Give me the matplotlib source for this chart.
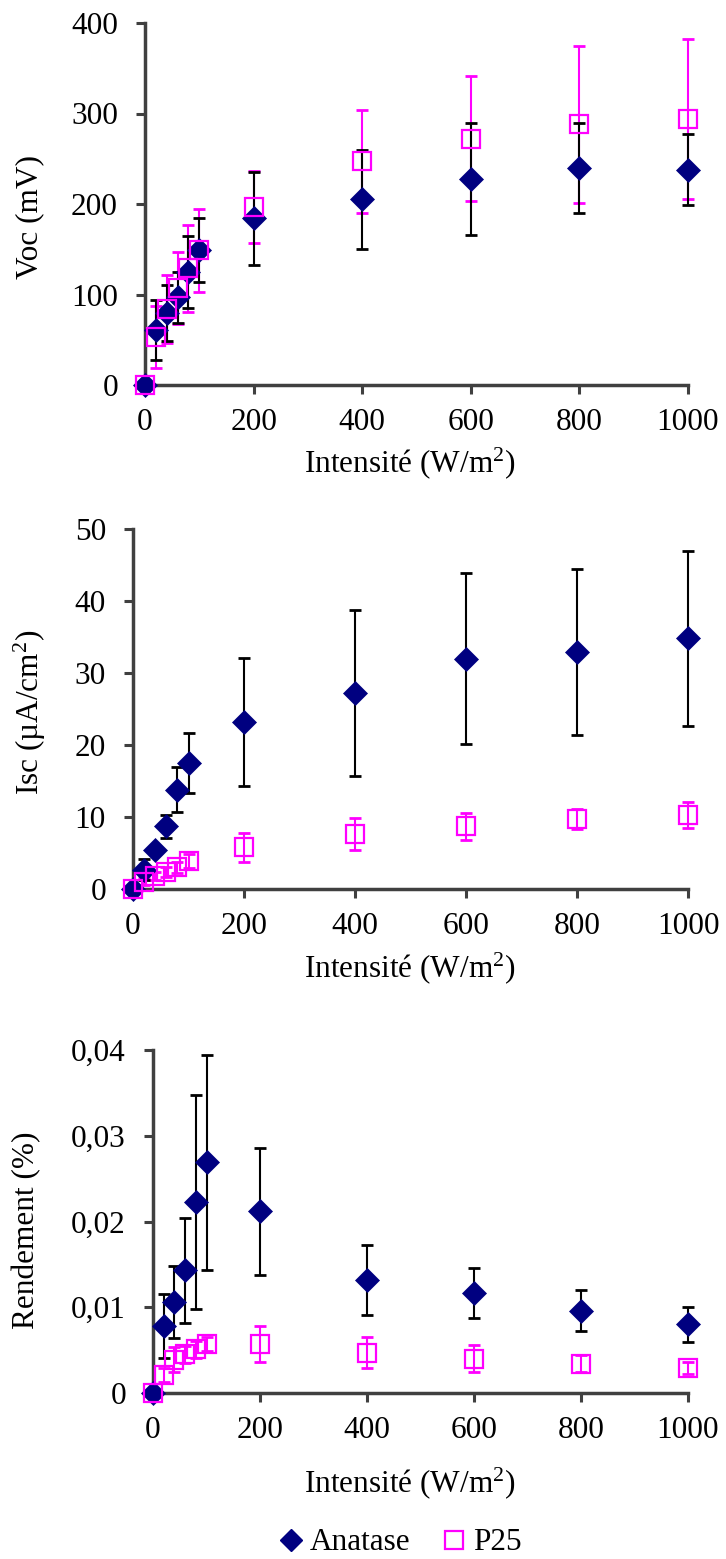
import matplotlib
matplotlib.use('agg')
import matplotlib.pyplot as plt
from matplotlib.lines import Line2D
from matplotlib.ticker import FuncFormatter

plt.rcParams['font.family'] = ['Liberation Serif', 'DejaVu Serif']
plt.rcParams['font.size'] = 22.5
plt.rcParams['mathtext.fontset'] = 'custom'
plt.rcParams['mathtext.rm'] = 'Liberation Serif'
plt.rcParams['mathtext.it'] = 'Liberation Serif:italic'
plt.rcParams['mathtext.default'] = 'rm'

# Intensity levels (W/m2)
intensite = [0, 20, 40, 60, 80, 100, 200, 400, 600, 800, 1000]

# Voc (mV)
voc_anatase = [0, 61, 80, 97, 125, 149, 184, 205, 228, 240, 238]
voc_anatase_err = [0, 33, 31, 28, 40, 35, 51, 55, 62, 50, 39]
voc_p25 = [0, 53, 84, 107, 129, 149, 197, 247, 272, 288, 294]
voc_p25_err = [0, 34, 38, 40, 48, 46, 40, 57, 69, 87, 88]

# Isc (uA/cm2)
isc_anatase = [0, 2.7, 5.4, 8.7, 13.8, 17.5, 23.2, 27.2, 32.0, 32.9, 34.8]
isc_anatase_err = [0, 1.4, 0.6, 1.6, 3.1, 4.2, 8.9, 11.5, 11.9, 11.5, 12.1]
isc_p25 = [0, 1.0, 1.8, 2.4, 3.0, 3.9, 5.8, 7.6, 8.7, 9.7, 10.3]
isc_p25_err = [0, 0.5, 0.6, 0.7, 0.8, 1.0, 2.0, 2.2, 1.9, 1.4, 1.8]

# Rendement (%)
rend_anatase = [0, 0.0078, 0.0106, 0.0143, 0.0223, 0.0269, 0.0212, 0.0132, 0.0117, 0.0096, 0.0080]
rend_anatase_err = [0, 0.0037, 0.0042, 0.0061, 0.0125, 0.0125, 0.0074, 0.0041, 0.0029, 0.0024, 0.0020]
rend_p25 = [0, 0.0021, 0.0039, 0.0045, 0.0051, 0.0057, 0.0057, 0.0047, 0.0040, 0.0034, 0.0029]
rend_p25_err = [0, 0.0008, 0.0015, 0.0010, 0.0010, 0.0008, 0.0021, 0.0018, 0.0016, 0.0010, 0.0007]

xlabel = 'Intensité (W/m$^{2}$)'
NAVY = '#000080'
MAGENTA = '#FF00FF'
AXC = '#404040'

W, H = 726, 1559
fig = plt.figure(figsize=(W / 100, H / 100), dpi=100)


def px_axes(left, top, right, bottom):
    return fig.add_axes([left / W, 1 - bottom / H, (right - left) / W, (bottom - top) / H])


def comma_fmt(v, pos):
    if abs(v) < 1e-12:
        return '0'
    return ('%.2f' % v).replace('.', ',')


panels = [
    # box (px), ylim, yticks, ylabel, ylabel pos, xlabel y, data
    ((145, 23, 688, 385), 400, [0, 100, 200, 300, 400], 'Voc (mV)', (30, 217), 463,
     voc_anatase, voc_anatase_err, voc_p25, voc_p25_err),
    ((133, 529, 688, 889), 50, [0, 10, 20, 30, 40, 50], 'Isc (µA/cm$^{2}$)', (30, 712), 968,
     isc_anatase, isc_anatase_err, isc_p25, isc_p25_err),
    ((153, 1050, 688, 1393), 0.04, [0, 0.01, 0.02, 0.03, 0.04], 'Rendement (%)', (27, 1230), 1483,
     rend_anatase, rend_anatase_err, rend_p25, rend_p25_err),
]

for i, (box, ymax, yticks, ylab, ylpos, xly, ya, ea, yp, ep) in enumerate(panels):
    ax = px_axes(*box)
    ax.errorbar(intensite, yp, yerr=ep, fmt='none', ecolor=MAGENTA, elinewidth=1.5,
                capsize=4.2, capthick=2, zorder=2, clip_on=False)
    ax.errorbar(intensite, ya, yerr=ea, fmt='none', ecolor='black', elinewidth=1.5,
                capsize=4, capthick=2, zorder=2, clip_on=False)
    ax.plot(intensite, ya, 'D', color=NAVY, ms=12, mec=NAVY, mew=0.5,
            clip_on=False, zorder=5)
    ax.plot(intensite, yp, 's', mfc='none', mec=MAGENTA, mew=1.6, ms=12.5,
            clip_on=False, zorder=6)

    ax.set_xlim(0, 1000)
    ax.set_ylim(0, ymax)
    ax.set_xticks([0, 200, 400, 600, 800, 1000])
    ax.set_yticks(yticks)
    if i == 2:
        ax.yaxis.set_major_formatter(FuncFormatter(comma_fmt))

    for s in ('top', 'right'):
        ax.spines[s].set_visible(False)
    for s in ('left', 'bottom'):
        ax.spines[s].set_linewidth(2.5)
        ax.spines[s].set_color(AXC)
    ax.tick_params(direction='out', length=6.5, width=2.2, color=AXC, labelcolor='black')
    ax.tick_params(axis='y', pad=13)
    ax.tick_params(axis='x', pad=10)

    fig.text(ylpos[0] / W, 1 - ylpos[1] / H, ylab, rotation=90, ha='center', va='center')
    fig.text(410 / W, 1 - xly / H, xlabel, ha='center', va='center')

handles = [
    Line2D([], [], marker='D', ls='none', color=NAVY, ms=11),
    Line2D([], [], marker='s', ls='none', mfc='none', mec=MAGENTA, mew=1.6, ms=12.5),
]
fig.legend(handles, ['Anatase', 'P25'], loc='center', bbox_to_anchor=(400 / W, 1 - 1543 / H),
           ncol=2, frameon=False, handlelength=0.8, handletextpad=0.2, columnspacing=1.0)

fig.savefig('out.png', dpi=100)
plt.close(fig)
